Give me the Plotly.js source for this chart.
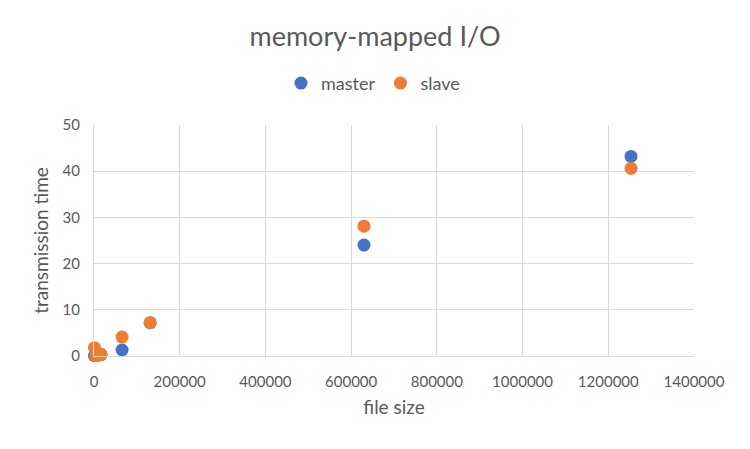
<!DOCTYPE html>
<html>
<head>
<meta charset="utf-8">
<script src="https://cdn.plot.ly/plotly-3.0.1.min.js"></script>
<style>html,body{margin:0;padding:0;background:#fff;}#chart{width:750px;height:449px;}</style>
</head>
<body>
<div id="chart"></div>
<script>
const fileSizes = [1024, 4096, 8192, 16384, 65536, 131072, 630000, 1253000];
const masterTimes = [0.1, 0.1, 0.2, 0.3, 1.3, 7.2, 24.0, 43.2];
const slaveTimes = [1.8, 0.1, 0.2, 0.3, 4.1, 7.2, 28.1, 40.6];
const seriesNames = ['master', 'slave'];

const font = "Lato, 'Open Sans', sans-serif";
const traces = [
  {x: fileSizes, y: masterTimes, name: seriesNames[0], type: 'scatter', mode: 'markers',
   cliponaxis: false, marker: {color: '#4472C4', size: 13}},
  {x: fileSizes, y: slaveTimes, name: seriesNames[1], type: 'scatter', mode: 'markers',
   cliponaxis: false, marker: {color: '#ED7D31', size: 13}}
];
const layout = {
  width: 750, height: 449,
  margin: {l: 94, r: 56, t: 125, b: 93},
  paper_bgcolor: '#fff', plot_bgcolor: '#fff',
  font: {family: font, color: '#595959', size: 15},
  title: {text: 'memory-mapped I/O', font: {size: 27, color: '#595959', family: font},
          x: 0.5, xanchor: 'center', y: 1 - 37/449, yanchor: 'middle'},
  showlegend: true,
  legend: {orientation: 'h', x: 0.465, xanchor: 'center', y: 1.18, yanchor: 'middle',
           font: {size: 18, color: '#595959'}, itemwidth: 30, tracegroupgap: 0},
  xaxis: {range: [0, 1400000], dtick: 200000, tick0: 0, tickformat: 'd',
          showgrid: true, gridcolor: '#d9d9d9', zeroline: false,
          showline: true, linecolor: '#d9d9d9', ticks: '', ticklabelstandoff: 12,
          title: {text: 'file size', font: {size: 19, color: '#595959'}, standoff: 11},
          tickfont: {size: 15, color: '#595959'}},
  yaxis: {range: [0, 50], dtick: 10, tick0: 0,
          showgrid: true, gridcolor: '#d9d9d9', zeroline: false,
          showline: true, linecolor: '#d9d9d9', ticks: '', ticklabelstandoff: 10,
          title: {text: 'transmission time', font: {size: 19, color: '#595959'}, standoff: 8},
          tickfont: {size: 15, color: '#595959'}}
};
Plotly.newPlot('chart', traces, layout, {displayModeBar: false, staticPlot: true});
</script>
</body>
</html>
